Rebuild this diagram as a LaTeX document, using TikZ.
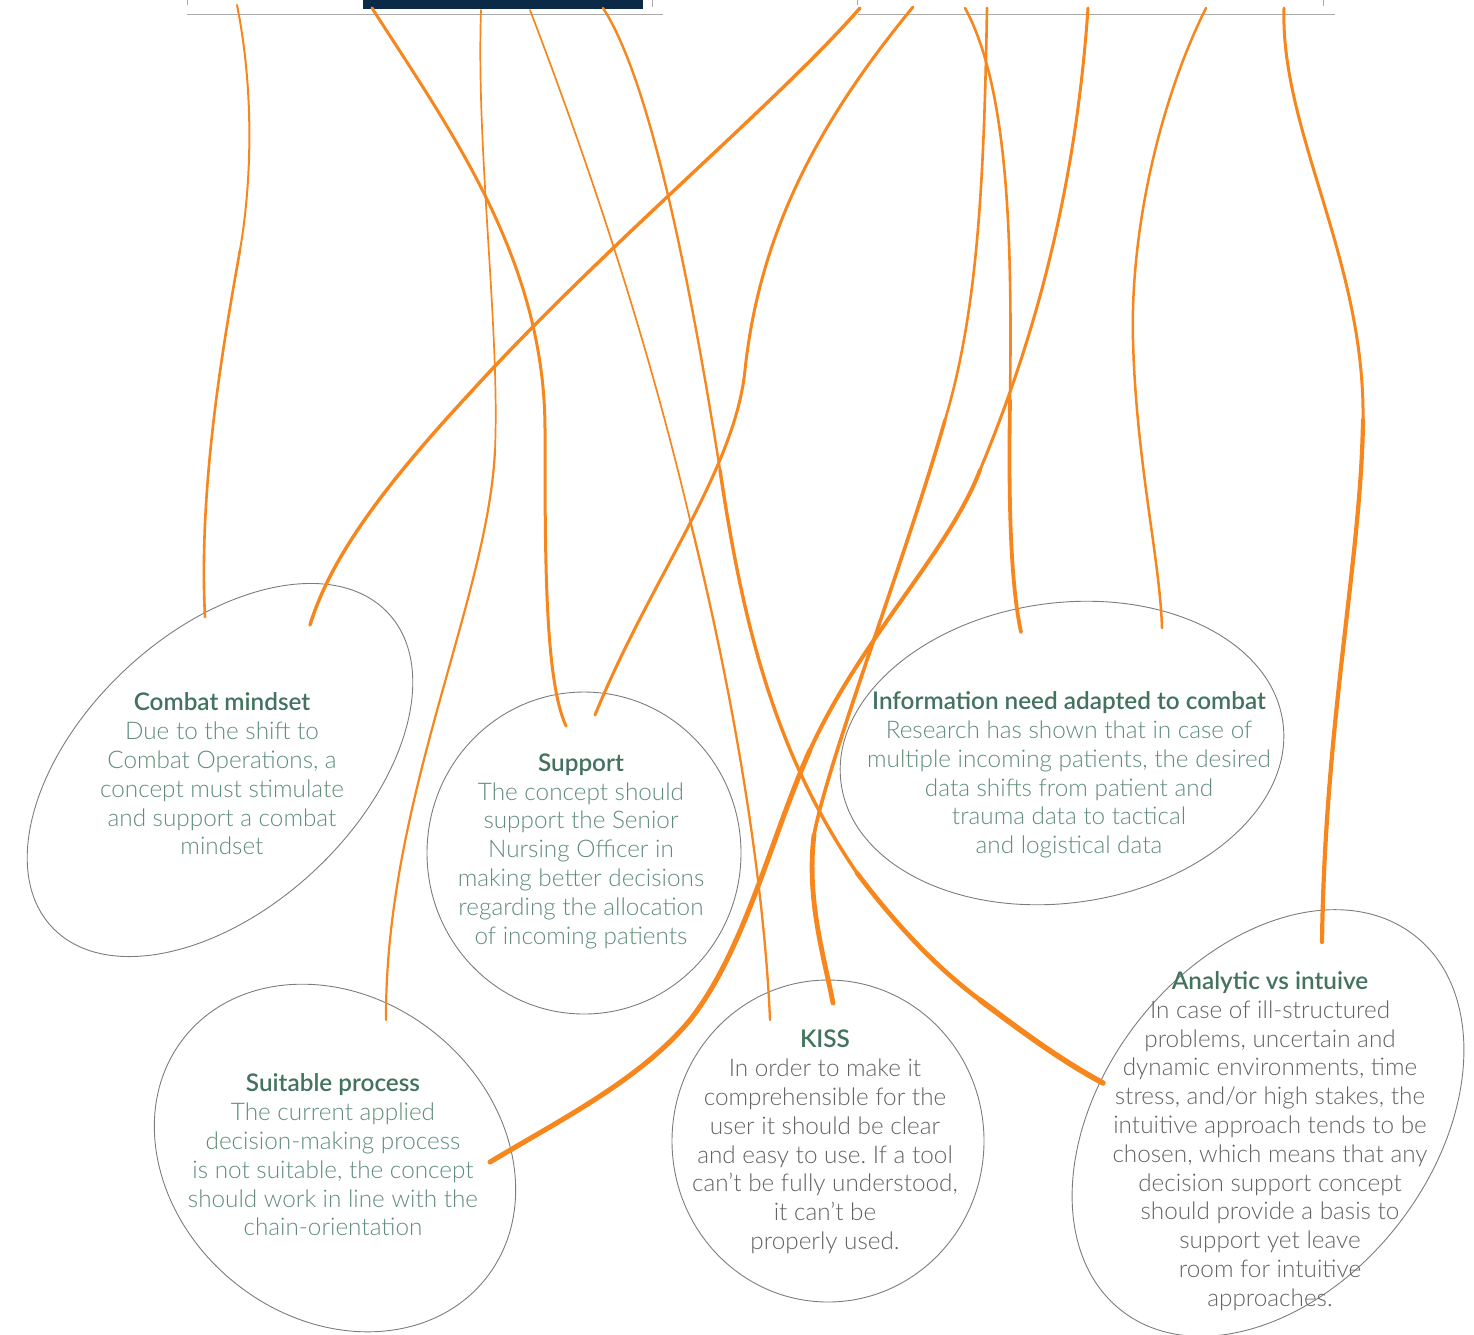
\documentclass[tikz,border=0pt]{standalone}
\usepackage{fontspec}
\usetikzlibrary{shapes.geometric}
\newfontfamily\bodyfont{Lato Light}
\newfontfamily\headfont{Lato Semibold}
\definecolor{wire}{HTML}{F7861C}
\definecolor{ringgray}{HTML}{7C7C7C}
\definecolor{headgreen}{HTML}{43735F}
\definecolor{bodygreen}{HTML}{5F8C79}
\definecolor{bodygray}{HTML}{626262}
\definecolor{navy}{HTML}{0B2A47}
\definecolor{rulegray}{HTML}{AAAAAA}
\frenchspacing

\begin{document}
\begin{tikzpicture}[x=1pt,y=-1pt,
  ring/.style={draw=ringgray, line width=0.9pt, ellipse, inner sep=0pt, outer sep=0pt},
  wire/.style={draw=wire, line cap=round},
  card/.style={align=center, inner sep=0pt,
    font=\bodyfont\fontsize{24.3}{28.8}\selectfont},
]
\useasboundingbox (0,0) rectangle (1474,1334);

% ---- header rules and bar ----
\coordinate (ruleLa) at (187,14.5);
\coordinate (ruleLb) at (663,14.5);
\coordinate (ruleRa) at (858,14.5);
\coordinate (ruleRb) at (1335,14.5);
\draw[rulegray, line width=1.2pt] (ruleLa) -- (ruleLb);
\draw[rulegray, line width=1.2pt] (ruleRa) -- (ruleRb);
\foreach \x/\h in {187/5,652/7,857/5,1323/6}
  \draw[rulegray, line width=0.8pt] (\x,0) -- (\x,\h);
\fill[navy] (363,0) rectangle (643,9);

% ---- rings ----
\node[ring, rotate=43, minimum width=460pt, minimum height=276pt] (combatRing) at (220,770) {};
\node[ring, minimum width=314pt, minimum height=322pt] (supportRing) at (584,853) {};
\node[ring, rotate=-39, minimum width=386pt, minimum height=320pt] (processRing) at (335,1158) {};
\node[ring, minimum width=312pt, minimum height=322pt] (kissRing) at (828,1141) {};
\node[ring, rotate=8, minimum width=446pt, minimum height=300pt] (infoRing) at (1062,753) {};
\node[ring, rotate=52, minimum width=476pt, minimum height=330pt] (analyticRing) at (1268,1123) {};

% ---- wire end points ----
\coordinate (a0) at (237,5);   \coordinate (a1) at (205,617);
\coordinate (b0) at (372,8);   \coordinate (b1) at (566,726);
\coordinate (c0) at (481,10);  \coordinate (c1) at (386,1020);
\coordinate (d0) at (530,10);  \coordinate (d1) at (770,1020);
\coordinate (e0) at (603,8);   \coordinate (e1) at (1103,1083);
\coordinate (f0) at (860,8);   \coordinate (f1) at (310,625);
\coordinate (g0) at (913,7);   \coordinate (g1) at (595,715);
\coordinate (h0) at (965,8);   \coordinate (h1) at (1021,632);
\coordinate (i0) at (987,8);   \coordinate (i1) at (833,1003);
\coordinate (j0) at (1088,8);  \coordinate (j1) at (490,1162);
\coordinate (k0) at (1206,8);  \coordinate (k1) at (1162,628);
\coordinate (l0) at (1284,8);  \coordinate (l1) at (1322,942);

% ---- wires (thicker towards the rings) ----
\draw[wire, line width=2pt] (a0) .. controls (254,90) and (252,180) .. (240,250);
\draw[wire, line width=2.6pt] (240,250) .. controls (226,330) and (198,480) .. (a1);

\draw[wire, line width=3pt] (b0) .. controls (450,130) and (545,260) .. (545,430)
  .. controls (545,560) and (545,680) .. (b1);

\draw[wire, line width=1.7pt] (c0) .. controls (476,150) and (500,330) .. (495,450);
\draw[wire, line width=2.2pt] (495,450) .. controls (488,600) and (385,800) .. (c1);

\draw[wire, line width=1.7pt] (d0) .. controls (595,180) and (650,350) .. (690,520);
\draw[wire, line width=2.3pt] (690,520) .. controls (740,720) and (765,900) .. (d1);

\draw[wire, line width=2.4pt] (e0) .. controls (650,80) and (690,280) .. (720,470);
\draw[wire, line width=3.4pt] (720,470) .. controls (745,640) and (780,760) .. (857,873);
\draw[wire, line width=4.6pt] (857,873) .. controls (900,930) and (940,970) .. (980,1000);
\draw[wire, line width=5.5pt] (980,1000) .. controls (1020,1030) and (1060,1060) .. (e1);

\draw[wire, line width=3.4pt] (f0) .. controls (780,100) and (600,250) .. (470,393)
  .. controls (380,490) and (330,560) .. (f1);

\draw[wire, line width=3pt] (g0) .. controls (820,120) and (760,230) .. (745,370)
  .. controls (735,470) and (650,580) .. (g1);

\draw[wire, line width=2.6pt] (h0) .. controls (1010,90) and (1012,250) .. (1010,400);
\draw[wire, line width=3.8pt] (1010,400) .. controls (1008,520) and (1012,590) .. (h1);

\draw[wire, line width=2.6pt] (i0) .. controls (984,180) and (978,310) .. (945,420);
\draw[wire, line width=3.6pt] (945,420) .. controls (905,560) and (828,760) .. (814,835);
\draw[wire, line width=4.8pt] (814,835) .. controls (806,900) and (825,960) .. (i1);

\draw[wire, line width=3pt] (j0) .. controls (1075,200) and (1030,350) .. (980,470);
\draw[wire, line width=4pt] (980,470) .. controls (950,550) and (860,640) .. (810,750);
\draw[wire, line width=5pt] (810,750) .. controls (770,840) and (745,950) .. (690,1020)
  .. controls (640,1080) and (560,1120) .. (j1);

\draw[wire, line width=2.5pt] (k0) .. controls (1160,100) and (1130,230) .. (1133,340)
  .. controls (1136,460) and (1160,560) .. (k1);

\draw[wire, line width=3pt] (l0) .. controls (1280,130) and (1365,260) .. (1363,420);
\draw[wire, line width=4.2pt] (1363,420) .. controls (1361,560) and (1325,720) .. (l1);

% ---- texts ----
\node[card, text=bodygreen] (combat) at (222,774)
  {{\headfont\color{headgreen}Combat mindset}\\Due to the shift to\\Combat Operations, a\\concept must stimulate\\and support a combat\\mindset};
\node[card, text=bodygreen] (support) at (581,851)
  {{\headfont\color{headgreen}Support}\\The concept should\\support the Senior\\Nursing Officer in\\making better decisions\\regarding the allocation\\of incoming patients};
\node[card, text=bodygreen] (process) at (333,1155)
  {{\headfont\color{headgreen}Suitable process}\\The current applied\\decision-making process\\is not suitable, the concept\\should work in line with the\\chain-orientation};
\node[card, text=bodygreen] (info) at (1069,775)
  {{\headfont\color{headgreen}Information need adapted to combat}\\Research has shown that in case of\\multiple incoming patients, the desired\\data shifts from patient and\\trauma data to tactical\\and logistical data};
\node[card, text=bodygray] (kiss) at (825,1142)
  {{\headfont\color{headgreen}KISS}\\In order to make it\\comprehensible for the\\user it should be clear\\and easy to use. If a tool\\can’t be fully understood,\\it can’t be\\properly used.};
\node[card, text=bodygray] (analytic) at (1270,1141)
  {{\headfont\color{headgreen}Analytic vs intuive}\\In case of ill-structured\\problems, uncertain and\\dynamic environments, time\\stress, and/or high stakes, the\\intuitive approach tends to be\\chosen, which means that any\\decision support concept\\should provide a basis to\\support yet leave\\room for intuitive\\approaches.};
\end{tikzpicture}
\end{document}
